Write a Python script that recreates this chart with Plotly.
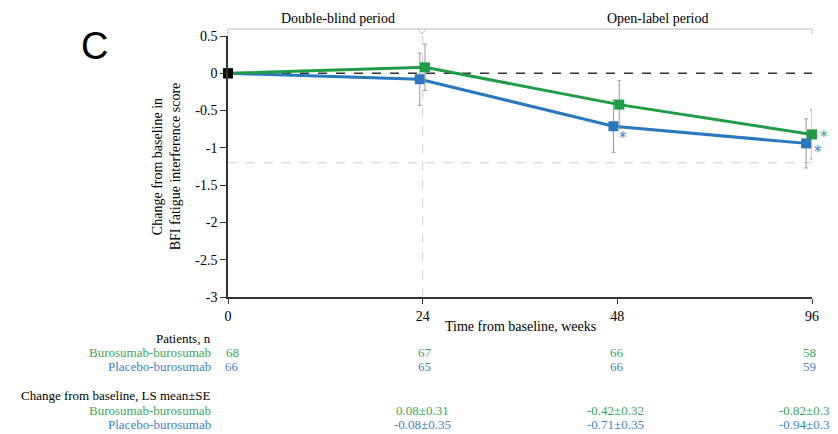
import plotly.graph_objects as go

# ---- data ----
weeks = ["0", "24", "48", "96"]
buro_mean = [0.0, 0.08, -0.42, -0.82]
buro_se = [0.0, 0.31, 0.32, 0.33]
plac_mean = [0.0, -0.08, -0.71, -0.94]
plac_se = [0.0, 0.35, 0.35, 0.33]
buro_n = [68, 67, 66, 58]
plac_n = [66, 65, 66, 59]
buro_lbl = ["", "0.08\u00b10.31", "-0.42\u00b10.32", "-0.82\u00b10.33"]
plac_lbl = ["", "-0.08\u00b10.35", "-0.71\u00b10.35", "-0.94\u00b10.33"]
yticks = [0.5, 0, -0.5, -1, -1.5, -2, -2.5, -3]
mcid = -1.2

GREEN = "#1f9c45"
BLUE = "#2a78be"
GTXT = "#3aa65a"
BTXT = "#3b82c4"
GRAY = "#bdbdbd"
FONT = "Liberation Serif, Times New Roman, DejaVu Serif, serif"

# page body has an 8px margin; all pixel positions below are in figure coords
OFF = 8
W, H = 838 - OFF, 434 - OFF
L, R, T, B = 228 - OFF, 812 - OFF, 36 - OFF, 297 - OFF


def py(p):
    return (B - (p - OFF)) / (B - T)


def px(p):
    return ((p - OFF) - L) / (R - L)


xpos = list(range(len(weeks)))
g_off = [0, 0.012, 0.01, 0.0]
b_off = [0, -0.015, -0.02, -0.03]
xg = [x + o for x, o in zip(xpos, g_off)]
xb = [x + o for x, o in zip(xpos, b_off)]

fig = go.Figure()

fig.add_trace(go.Scatter(
    x=xb, y=plac_mean, mode="lines+markers",
    line=dict(color=BLUE, width=3),
    marker=dict(symbol="square", size=10, color=BLUE),
    error_y=dict(type="data", array=plac_se, color="#9a9a9a", thickness=1, width=2),
    cliponaxis=False, showlegend=False))
fig.add_trace(go.Scatter(
    x=xg, y=buro_mean, mode="lines+markers",
    line=dict(color=GREEN, width=3),
    marker=dict(symbol="square", size=10, color=GREEN),
    error_y=dict(type="data", array=buro_se, color="#9a9a9a", thickness=1, width=2),
    cliponaxis=False, showlegend=False))
fig.add_trace(go.Scatter(
    x=[xpos[0]], y=[buro_mean[0]], mode="markers",
    marker=dict(symbol="square", size=10, color="black"),
    cliponaxis=False, showlegend=False))

shapes = []
# reference lines
shapes.append(dict(type="line", xref="x", yref="y", x0=0, x1=3, y0=0, y1=0,
                   line=dict(color="#333333", width=1.5, dash="dash"), layer="below"))
shapes.append(dict(type="line", xref="x", yref="y", x0=0, x1=3, y0=mcid, y1=mcid,
                   line=dict(color="#cfcfcf", width=1, dash="dash"), layer="below"))
shapes.append(dict(type="line", xref="x", yref="paper", x0=1, x1=1, y0=0, y1=py(33),
                   line=dict(color="#cfcfcf", width=1, dash="dash"), layer="below"))
# period brackets
shapes.append(dict(type="line", xref="paper", yref="paper", x0=0, x1=1, y0=py(29), y1=py(29),
                   line=dict(color=GRAY, width=1)))
shapes.append(dict(type="line", xref="paper", yref="paper", x0=0, x1=0, y0=py(29), y1=1,
                   line=dict(color=GRAY, width=1)))
shapes.append(dict(type="line", xref="paper", yref="paper", x0=1, x1=1, y0=py(29), y1=py(34),
                   line=dict(color=GRAY, width=1)))
shapes.append(dict(type="path", xref="paper", yref="paper",
                   path=f"M {px(418)} {py(29)} L {px(422)} {py(34)} L {px(426)} {py(29)}",
                   line=dict(color=GRAY, width=1)))

ann = []


def text(x, y, s, color="black", size=13, xanchor="center", xref="paper", xshift=0):
    ann.append(dict(x=x, y=y, xref=xref, yref="paper", text=s, showarrow=False,
                    font=dict(family=FONT, size=size, color=color),
                    xanchor=xanchor, yanchor="middle", xshift=xshift))


text(px(338), py(19), "Double-blind period", size=14)
text(px(657), py(19), "Open-label period", size=14)

# panel letter
ann.append(dict(x=px(94), y=py(46), xref="paper", yref="paper", text="C", showarrow=False,
                font=dict(family="Liberation Sans", size=38, color="black"),
                xanchor="center", yanchor="middle"))

# asterisks
ann.append(dict(x=xb[2], y=plac_mean[2], xref="x", yref="y", text="*", showarrow=False,
                font=dict(family="DejaVu Sans", size=15, color=BTXT), xshift=10, yshift=-12))
ann.append(dict(x=xg[3], y=buro_mean[3], xref="x", yref="y", text="*", showarrow=False,
                font=dict(family="DejaVu Sans", size=15, color=GTXT), xshift=12, yshift=-3))
ann.append(dict(x=xb[3], y=plac_mean[3], xref="x", yref="y", text="*", showarrow=False,
                font=dict(family="DejaVu Sans", size=15, color=BTXT), xshift=12, yshift=-9))

# table
shift = [4, 2, 0, -3]
text(px(213), py(338), "Patients, n", xanchor="right")
text(px(213), py(352), "Burosumab-burosumab", color=GTXT, xanchor="right")
text(px(213), py(366), "Placebo-burosumab", color=BTXT, xanchor="right")
for i, w in enumerate(xpos):
    text(w, py(352), str(buro_n[i]), color=GTXT, xref="x", xshift=shift[i])
    text(w, py(366), str(plac_n[i]), color=BTXT, xref="x", xshift=shift[i])
text(px(213), py(395.5), "Change from baseline, LS mean\u00b1SE", xanchor="right")
text(px(213), py(410), "Burosumab-burosumab", color=GTXT, xanchor="right")
text(px(213), py(424), "Placebo-burosumab", color=BTXT, xanchor="right")
for i, w in enumerate(xpos):
    if buro_lbl[i]:
        text(w, py(410), buro_lbl[i], color=GTXT, xref="x", xshift=shift[i] - 2)
        text(w, py(424), plac_lbl[i], color=BTXT, xref="x", xshift=shift[i] - 2)

text(0.5, py(326), "Time from baseline, weeks", size=14)

fig.update_layout(
    width=W, height=H,
    margin=dict(l=L, r=W - R, t=T, b=H - B, pad=0),
    paper_bgcolor="white", plot_bgcolor="white",
    shapes=shapes, annotations=ann,
    font=dict(family=FONT, size=13, color="black"),
    xaxis=dict(range=[0, 3], tickmode="array", tickvals=xpos, ticktext=weeks,
               showgrid=False, zeroline=False, showline=True, linecolor="#333333", linewidth=1.5,
               ticks="outside", ticklen=5, tickcolor="#333333", tickfont=dict(family=FONT, size=14)),
    yaxis=dict(range=[-3, 0.5], tickmode="array", tickvals=yticks,
               ticktext=[("%g" % v) for v in yticks],
               showgrid=False, zeroline=False, showline=True, linecolor="#333333", linewidth=1.5,
               ticks="outside", ticklen=6, tickcolor="#333333", tickfont=dict(family=FONT, size=14),
               title=dict(text="Change from baseline in<br>BFI fatigue interference score",
                          font=dict(family=FONT, size=14), standoff=11)),
)

fig.write_html("out.html")
